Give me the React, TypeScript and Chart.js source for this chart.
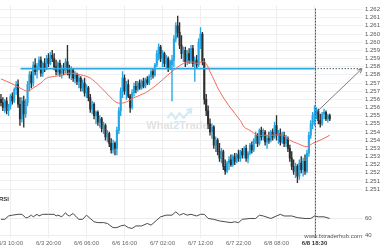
import React, { useEffect, useRef } from 'react';
import { Chart, registerables } from 'chart.js';
Chart.register(...registerables);

// ---- candles (30-min) ----
const opens = [
  1.2565,1.2563,1.2560,1.2564,1.2558,1.2561,1.2567,1.2564,1.2571,1.2574,
  1.2562,1.2553,1.2564,1.2556,1.2563,1.2574,1.2580,1.2575,1.2586,1.2582,
  1.2585,1.2589,1.2581,1.2587,1.2584,1.2590,1.2587,1.2592,1.2590,1.2585,
  1.2582,1.2587,1.2581,1.2584,1.2583,1.2588,1.2583,1.2580,1.2583,1.2578,
  1.2580,1.2576,1.2578,1.2572,1.2575,1.2569,1.2572,1.2566,1.2559,1.2562,
  1.2555,1.2557,1.2551,1.2553,1.2547,1.2549,1.2542,1.2544,1.2538,1.2534,
  1.2538,1.2535,1.2546,1.2558,1.2570,1.2578,1.2570,1.2574,1.2567,1.2560,
  1.2569,1.2573,1.2571,1.2575,1.2572,1.2576,1.2573,1.2577,1.2575,1.2579,
  1.2582,1.2580,1.2586,1.2593,1.2597,1.2590,1.2593,1.2587,1.2590,1.2584,
  1.2586,1.2589,1.2602,1.2610,1.2606,1.2598,1.2593,1.2595,1.2588,1.2593,
  1.2589,1.2596,1.2587,1.2589,1.2586,1.2600,1.2605,1.2588,1.2565,1.2558,
  1.2550,1.2545,1.2548,1.2537,1.2540,1.2533,1.2529,1.2533,1.2524,1.2521,
  1.2526,1.2528,1.2525,1.2530,1.2527,1.2531,1.2529,1.2533,1.2531,1.2535,
  1.2529,1.2532,1.2537,1.2534,1.2540,1.2543,1.2538,1.2546,1.2542,1.2545,
  1.2539,1.2541,1.2540,1.2545,1.2542,1.2549,1.2543,1.2544,1.2539,1.2543,
  1.2538,1.2541,1.2535,1.2529,1.2524,1.2521,1.2524,1.2518,1.2526,1.2522,
  1.2527,1.2521,1.2532,1.2543,1.2550,1.2555,1.2556,1.2558,1.2552,1.2550,
  1.2556,1.2557,1.2553,1.2555,
];
const highs = [
  1.2568,1.2566,1.2565,1.2566,1.2562,1.2568,1.2569,1.2572,1.2576,1.2577,
  1.2566,1.2566,1.2567,1.2565,1.2576,1.2582,1.2582,1.2588,1.2590,1.2587,
  1.2591,1.2591,1.2588,1.2590,1.2592,1.2593,1.2594,1.2595,1.2593,1.2589,
  1.2588,1.2589,1.2586,1.2587,1.2590,1.2598,1.2586,1.2585,1.2584,1.2582,
  1.2581,1.2580,1.2579,1.2577,1.2578,1.2574,1.2573,1.2568,1.2564,1.2563,
  1.2558,1.2558,1.2555,1.2554,1.2551,1.2550,1.2546,1.2545,1.2541,1.2540,
  1.2539,1.2548,1.2560,1.2572,1.2582,1.2580,1.2576,1.2577,1.2568,1.2571,
  1.2575,1.2576,1.2576,1.2577,1.2577,1.2578,1.2578,1.2579,1.2580,1.2583,
  1.2584,1.2587,1.2595,1.2599,1.2598,1.2595,1.2594,1.2592,1.2591,1.2589,
  1.2592,1.2604,1.2612,1.2616,1.2612,1.2604,1.2597,1.2597,1.2595,1.2596,
  1.2598,1.2598,1.2591,1.2592,1.2602,1.2609,1.2606,1.2590,1.2568,1.2561,
  1.2553,1.2550,1.2549,1.2542,1.2541,1.2538,1.2535,1.2534,1.2528,1.2527,
  1.2530,1.2531,1.2531,1.2532,1.2532,1.2534,1.2534,1.2535,1.2536,1.2537,
  1.2533,1.2538,1.2539,1.2541,1.2545,1.2544,1.2547,1.2548,1.2547,1.2546,
  1.2543,1.2545,1.2546,1.2547,1.2551,1.2555,1.2546,1.2547,1.2545,1.2545,
  1.2543,1.2542,1.2537,1.2533,1.2528,1.2526,1.2525,1.2528,1.2530,1.2529,
  1.2531,1.2534,1.2545,1.2552,1.2557,1.2561,1.2560,1.2559,1.2556,1.2557,
  1.2559,1.2558,1.2556,1.2556,
];
const lows = [
  1.2561,1.2558,1.2557,1.2556,1.2555,1.2559,1.2562,1.2563,1.2568,1.2560,
  1.2549,1.2551,1.2548,1.2554,1.2561,1.2570,1.2572,1.2573,1.2580,1.2578,
  1.2583,1.2579,1.2579,1.2582,1.2583,1.2585,1.2586,1.2588,1.2583,1.2580,
  1.2580,1.2579,1.2578,1.2580,1.2581,1.2580,1.2578,1.2577,1.2576,1.2575,
  1.2574,1.2572,1.2570,1.2570,1.2567,1.2566,1.2564,1.2557,1.2556,1.2553,
  1.2550,1.2549,1.2548,1.2545,1.2544,1.2540,1.2539,1.2536,1.2532,1.2532,
  1.2531,1.2531,1.2544,1.2555,1.2566,1.2568,1.2565,1.2566,1.2557,1.2559,
  1.2567,1.2569,1.2570,1.2571,1.2571,1.2572,1.2572,1.2574,1.2574,1.2577,
  1.2578,1.2579,1.2585,1.2589,1.2588,1.2585,1.2585,1.2584,1.2582,1.2583,
  1.2564,1.2585,1.2600,1.2603,1.2596,1.2590,1.2588,1.2585,1.2586,1.2587,
  1.2587,1.2585,1.2576,1.2584,1.2585,1.2596,1.2586,1.2562,1.2555,1.2547,
  1.2543,1.2541,1.2535,1.2533,1.2531,1.2527,1.2526,1.2522,1.2519,1.2520,
  1.2522,1.2524,1.2524,1.2525,1.2526,1.2527,1.2527,1.2529,1.2529,1.2527,
  1.2526,1.2531,1.2532,1.2533,1.2538,1.2536,1.2537,1.2540,1.2540,1.2537,
  1.2535,1.2538,1.2539,1.2540,1.2541,1.2540,1.2538,1.2537,1.2538,1.2536,
  1.2536,1.2533,1.2527,1.2522,1.2519,1.2517,1.2514,1.2516,1.2520,1.2518,
  1.2519,1.2520,1.2530,1.2541,1.2547,1.2549,1.2553,1.2550,1.2548,1.2549,
  1.2553,1.2552,1.2551,1.2552,
];
const closes = [
  1.2563,1.2560,1.2564,1.2558,1.2561,1.2567,1.2564,1.2571,1.2574,1.2562,
  1.2553,1.2564,1.2556,1.2563,1.2574,1.2580,1.2575,1.2586,1.2582,1.2585,
  1.2589,1.2581,1.2587,1.2584,1.2590,1.2587,1.2592,1.2590,1.2585,1.2582,
  1.2587,1.2581,1.2584,1.2583,1.2588,1.2583,1.2580,1.2583,1.2578,1.2580,
  1.2576,1.2578,1.2572,1.2575,1.2569,1.2572,1.2566,1.2559,1.2562,1.2555,
  1.2557,1.2551,1.2553,1.2547,1.2549,1.2542,1.2544,1.2538,1.2534,1.2538,
  1.2535,1.2546,1.2558,1.2570,1.2578,1.2570,1.2574,1.2567,1.2560,1.2569,
  1.2573,1.2571,1.2575,1.2572,1.2576,1.2573,1.2577,1.2575,1.2579,1.2582,
  1.2580,1.2586,1.2593,1.2597,1.2590,1.2593,1.2587,1.2590,1.2584,1.2588,
  1.2589,1.2602,1.2610,1.2606,1.2598,1.2593,1.2595,1.2588,1.2593,1.2589,
  1.2596,1.2587,1.2589,1.2586,1.2600,1.2605,1.2588,1.2565,1.2558,1.2550,
  1.2545,1.2548,1.2537,1.2540,1.2533,1.2529,1.2533,1.2524,1.2521,1.2526,
  1.2528,1.2525,1.2530,1.2527,1.2531,1.2529,1.2533,1.2531,1.2535,1.2529,
  1.2532,1.2537,1.2534,1.2540,1.2543,1.2538,1.2546,1.2542,1.2545,1.2539,
  1.2541,1.2540,1.2545,1.2542,1.2549,1.2543,1.2544,1.2539,1.2543,1.2538,
  1.2541,1.2535,1.2529,1.2524,1.2521,1.2524,1.2518,1.2526,1.2522,1.2527,
  1.2521,1.2532,1.2543,1.2550,1.2555,1.2556,1.2558,1.2552,1.2550,1.2556,
  1.2557,1.2553,1.2555,1.2553,
];

// ---- moving average (sampled points) ----
const maIdx = [0,5,10,14,17,21,24,28,33,36,42,47,52,57,61,65,70,76,81,85,90,96,100,103,107,110,115,120,126,128,131,135,138,142,148,152,156,161,164,168,173];
const maVal = [1.25775,1.2575,1.2572,1.2570,1.2572,1.2575,1.2578,1.2579,1.2580,1.2581,1.2580,1.2578,1.2573,1.2567,1.2563,1.2563,1.2566,1.2569,1.2573,1.2577,1.2582,1.2587,1.2588,1.2587,1.2588,1.2582,1.2570,1.2561,1.2552,1.2548,1.2546,1.2543,1.2543,1.2543,1.2543,1.2540,1.2538,1.2536,1.2538,1.2540,1.2543];

// ---- RSI (sampled points) ----
const rsiIdx = [0,2,4,6,9,11,13,14,16,17,19,20,22,25,28,29,30,32,34,35,36,38,40,41,43,45,47,49,51,54,56,59,61,63,65,67,69,71,74,77,79,82,84,87,90,92,94,96,98,100,103,105,107,109,112,115,118,121,123,125,127,131,134,136,138,142,145,147,149,153,156,160,163,165,167,170,173];
const rsiVal = [59,59,63,64,65,65,61,61,64,62,65,63,65,65,65,63,64,62,67,64,63,66,61,59,59,64,60,56,55,55,54,49,49,51,52,49,48,51,51,54,52,58,62,64,64,68,64,66,64,65,63,65,65,60,59,57,56,55,56,55,59,60,60,64,63,60,63,65,63,63,61,60,60,63,62,62,60];

// ---- axes ----
const tickIdx = [5,25,45,65,85,105,125,145,165];
const tickText = ['6/3 10:00','6/3 20:00','6/6 06:00','6/6 16:00','6/7 02:00','6/7 12:00','6/7 22:00','6/8 08:00','6/8 18:30'];
const priceTicks = [1.2620,1.2615,1.2610,1.2605,1.2600,1.2595,1.2590,1.2585,1.2580,1.2575,1.2570,1.2565,1.2560,1.2555,1.2550,1.2545,1.2540,1.2535,1.2530,1.2525,1.2520,1.2515,1.2510];
const priceTickText = ['1.262','1.261','1.261','1.260','1.260','1.259','1.259','1.258','1.258','1.257','1.257','1.256','1.256','1.255','1.255','1.254','1.254','1.253','1.253','1.252','1.252','1.251','1.251'];
const rsiTicks = [40, 60];
const rsiTickText = ['40', '60'];

// ---- annotations ----
const levelPrice = 1.25838;
const levelStart = 10.3;
const markerIdx = 165;
const targetIdx = 190;
const arrowStartPrice = 1.2556;

const FONT = "'Liberation Sans', Arial, sans-serif";
const UP = '#23a6e3';
const DOWN = '#2e2e2e';

export default function App() {
  const ref = useRef<HTMLCanvasElement | null>(null);
  useEffect(() => {
    document.body.style.margin = '0';
    const canvas = ref.current;
    if (!canvas) return;
    const colors = opens.map((o, i) => (closes[i] >= o ? UP : DOWN));

    const overlay = {
      id: 'overlay',
      beforeDatasetsDraw(chart: any) {
        const { ctx, chartArea } = chart;
        const cx = (chartArea.left + chartArea.right) / 2;
        ctx.save();
        ctx.strokeStyle = '#d3e9f7';
        ctx.lineWidth = 2;
        ctx.lineJoin = 'round';
        ctx.beginPath();
        const lx = cx - 14, ly = 118;
        ctx.moveTo(lx, ly);
        ctx.lineTo(lx + 4, ly - 5);
        ctx.lineTo(lx + 8, ly + 1);
        ctx.lineTo(lx + 12, ly - 5);
        ctx.lineTo(lx + 16, ly);
        ctx.lineTo(lx + 23, ly - 8);
        ctx.stroke();
        ctx.beginPath();
        ctx.moveTo(lx + 19, ly - 8);
        ctx.lineTo(lx + 24, ly - 9);
        ctx.lineTo(lx + 23, ly - 4);
        ctx.stroke();
        ctx.font = `bold 11px ${FONT}`;
        ctx.textBaseline = 'middle';
        ctx.textAlign = 'left';
        const parts: [string, string][] = [['What', '#e2e2e2'], ['2', '#cfe6f5'], ['Trade', '#e2e2e2']];
        const total = parts.reduce((s, p) => s + ctx.measureText(p[0]).width, 0);
        let x = cx - 4 - total / 2;
        for (const [t, c] of parts) {
          ctx.fillStyle = c;
          ctx.fillText(t, x, 126);
          x += ctx.measureText(t).width;
        }
        ctx.restore();
      },
      afterDatasetsDraw(chart: any) {
        const { ctx, chartArea, scales } = chart;
        const xs = scales.x, ys = scales.y, rs = scales.rsi;
        ctx.save();
        const mx = Math.round(xs.getPixelForValue(markerIdx)) + 0.5;
        ctx.strokeStyle = '#3f5a68';
        ctx.lineWidth = 1;
        ctx.setLineDash([2, 1]);
        ctx.beginPath();
        ctx.moveTo(mx, chartArea.top + 3);
        ctx.lineTo(mx, chartArea.bottom);
        ctx.stroke();
        ctx.setLineDash([]);
        const x0 = xs.getPixelForValue(markerIdx), y0 = ys.getPixelForValue(arrowStartPrice);
        const x1 = xs.getPixelForValue(targetIdx), y1 = ys.getPixelForValue(levelPrice);
        const ang = Math.atan2(y1 - y0, x1 - x0);
        ctx.strokeStyle = '#7d7d7d';
        ctx.lineWidth = 1;
        ctx.beginPath();
        ctx.moveTo(x1 - 5 * Math.cos(ang - 0.45), y1 - 5 * Math.sin(ang - 0.45));
        ctx.lineTo(x1, y1);
        ctx.lineTo(x1 - 5 * Math.cos(ang + 0.45), y1 - 5 * Math.sin(ang + 0.45));
        ctx.stroke();
        ctx.font = `6px ${FONT}`;
        ctx.fillStyle = '#555';
        ctx.textAlign = 'left';
        ctx.textBaseline = 'middle';
        rsiTicks.forEach((v, i) => {
          ctx.fillText(rsiTickText[i], chartArea.right + 2, rs.getPixelForValue(v));
        });
        ctx.font = `bold 6px ${FONT}`;
        ctx.fillStyle = '#333';
        ctx.fillText('RSI', chartArea.left - 1, 199);
        ctx.font = `6px ${FONT}`;
        ctx.fillStyle = '#555';
        ctx.textAlign = 'right';
        ctx.fillText('www.fxtraderhub.com', x1, 236);
        ctx.restore();
      },
    };

    const chart = new Chart(canvas, {
      type: 'bar',
      data: {
        datasets: [
          {
            type: 'line', data: maIdx.map((x, i) => ({ x, y: maVal[i] })), yAxisID: 'y',
            borderColor: '#f36a5e', borderWidth: 1, pointRadius: 0, tension: 0.35,
          } as any,
          {
            type: 'line', data: [{ x: levelStart, y: levelPrice }, { x: markerIdx, y: levelPrice }], yAxisID: 'y',
            borderColor: '#2aa7df', borderWidth: 1.6, pointRadius: 0,
          },
          {
            type: 'line', data: [{ x: markerIdx, y: levelPrice }, { x: targetIdx, y: levelPrice }], yAxisID: 'y',
            borderColor: '#4c6572', borderWidth: 1, borderDash: [1.5, 1.5], pointRadius: 0,
          },
          {
            type: 'line', data: [{ x: markerIdx, y: arrowStartPrice }, { x: targetIdx, y: levelPrice }], yAxisID: 'y',
            borderColor: '#7d7d7d', borderWidth: 1, pointRadius: 0,
          },
          {
            type: 'line', data: rsiIdx.map((x, i) => ({ x, y: rsiVal[i] })), yAxisID: 'rsi',
            borderColor: '#4a4a4a', borderWidth: 1, pointRadius: 0, tension: 0,
          },
          {
            type: 'bar', data: opens.map((o, i) => ({ x: i, y: [o, closes[i]] })), yAxisID: 'y',
            backgroundColor: colors, barThickness: 1.4, grouped: false, minBarLength: 1,
          } as any,
          {
            type: 'bar', data: lows.map((l, i) => ({ x: i, y: [l, highs[i]] })), yAxisID: 'y',
            backgroundColor: colors, barThickness: 0.7, grouped: false,
          } as any,
        ],
      },
      options: {
        animation: false,
        responsive: false,
        devicePixelRatio: 1,
        layout: { padding: 0 },
        plugins: { legend: { display: false }, tooltip: { enabled: false } },
        events: [],
        scales: {
          x: {
            type: 'linear', min: -0.5, max: 190.5, offset: false,
            afterBuildTicks: (s: any) => { s.ticks = tickIdx.map((value) => ({ value })); },
            afterFit: (s: any) => { s.height = 12; s.paddingLeft = 0; s.paddingRight = 0; },
            grid: { color: '#eeeeee', drawTicks: false, offset: false },
            border: { display: false },
            ticks: {
              autoSkip: false, maxRotation: 0, padding: 1.5,
              callback: (v: any) => tickText[tickIdx.indexOf(v)],
              font: (c: any) => ({ family: FONT, size: 6, weight: c.tick && c.tick.value === markerIdx ? 'bold' : 'normal' }),
              color: (c: any) => (c.tick && c.tick.value === markerIdx ? '#333' : '#666'),
            },
          },
          y: {
            type: 'linear', position: 'right', weight: 0, min: 1.24801, max: 1.262239,
            afterBuildTicks: (s: any) => { s.ticks = priceTicks.map((value) => ({ value })); },
            afterFit: (s: any) => { s.width = 17; },
            grid: { color: '#f0f0f0', drawTicks: false },
            border: { display: false },
            ticks: {
              padding: 2, autoSkip: false,
              callback: (_v: any, i: number) => priceTickText[i],
              font: { family: FONT, size: 6 }, color: '#555',
            },
          },
          rsi: {
            type: 'linear', position: 'right', weight: 1, min: 36.47, max: 316.5,
            afterBuildTicks: (s: any) => { s.ticks = rsiTicks.map((value) => ({ value })); },
            afterFit: (s: any) => { s.width = 0; },
            grid: { color: '#ececec', drawTicks: false },
            border: { display: false },
            ticks: { display: false },
          },
        },
      } as any,
      plugins: [overlay],
    });
    return () => chart.destroy();
  }, []);
  return (
    <div style={{ width: 380, height: 250 }}>
      <canvas ref={ref} width={380} height={250} style={{ display: 'block' }} />
    </div>
  );
}
